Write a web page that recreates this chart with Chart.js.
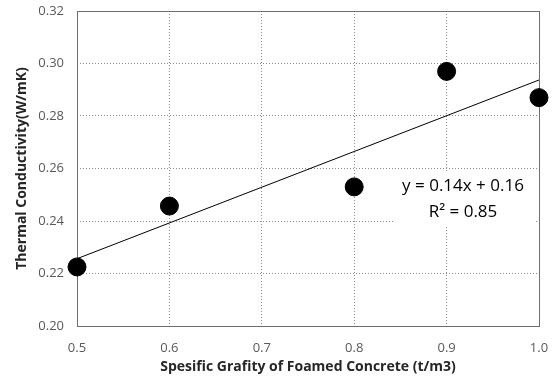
<!DOCTYPE html>
<html>
<head>
<meta charset="utf-8">
<script src="https://cdn.jsdelivr.net/npm/chart.js@4.4.1/dist/chart.umd.min.js"></script>
<style>
  html, body { margin: 0; padding: 0; background: #fff; }
  #wrap { position: relative; width: 555px; height: 385px; }
</style>
</head>
<body>
<div id="wrap"><canvas id="chart"></canvas></div>
<script>
// values
const gravity = [0.5, 0.6, 0.8, 0.9, 1.0];
const conductivity = [0.2225, 0.2457, 0.253, 0.297, 0.287];
const xTicks = [0.5, 0.6, 0.7, 0.8, 0.9, 1.0];
const yTicks = [0.20, 0.22, 0.24, 0.26, 0.28, 0.30, 0.32];
const equationLines = ['y = 0.14x + 0.16', 'R\u00b2 = 0.85'];

// least squares fit for the trendline
function linearFit (xs, ys) {
  const n = xs.length;
  const mx = xs.reduce((a, b) => a + b, 0) / n;
  const my = ys.reduce((a, b) => a + b, 0) / n;
  let sxy = 0, sxx = 0;
  xs.forEach((x, i) => {
    sxy += (x - mx) * (ys[i] - my);
    sxx += (x - mx) * (x - mx);
  });
  const slope = sxy / sxx;
  return {slope, intercept: my - slope * mx};
}

const fit = linearFit(gravity, conductivity);
const trendX = [gravity[0], gravity[gravity.length - 1]];
const trend = trendX.map(x => ({x, y: fit.intercept + fit.slope * x}));
const points = gravity.map((x, i) => ({x, y: conductivity[i]}));

const FONT = '"Open Sans", "Liberation Sans", sans-serif';

// axes should not push the plot area around for label overflow
function noPadding (axis) {
  axis.paddingTop = 0;
  axis.paddingBottom = 0;
  axis.paddingLeft = 0;
  axis.paddingRight = 0;
}

const frameAndLabel = {
  id: 'frameAndLabel',
  beforeDatasetsDraw (chart) {
    const {ctx, chartArea: a} = chart;
    ctx.save();
    ctx.strokeStyle = '#6e6e6e';
    ctx.lineWidth = 1;
    ctx.strokeRect(Math.round(a.left) + 0.5, Math.round(a.top) + 0.5,
      Math.round(a.right - a.left), Math.round(a.bottom - a.top));

    // equation box
    ctx.fillStyle = '#fff';
    ctx.fillRect(395, 172, 141, 55);
    ctx.fillStyle = '#000';
    ctx.font = '17px ' + FONT;
    ctx.textAlign = 'center';
    ctx.textBaseline = 'middle';
    ctx.fillText(equationLines[0], 463, 186);
    ctx.fillText(equationLines[1], 463, 212);
    ctx.restore();
  }
};

new Chart(document.getElementById('chart'), {
  type: 'scatter',
  data: {
    datasets: [
      {
        data: trend,
        showLine: true,
        borderColor: '#000',
        borderWidth: 1,
        pointRadius: 0,
        clip: false,
        order: 2
      },
      {
        data: points,
        backgroundColor: '#000',
        borderColor: '#000',
        pointRadius: 9,
        pointHoverRadius: 9,
        clip: false,
        order: 1
      }
    ]
  },
  options: {
    responsive: true,
    maintainAspectRatio: false,
    animation: false,
    layout: {padding: {top: 11, right: 16, left: 0, bottom: 0}},
    plugins: {
      legend: {display: false},
      tooltip: {enabled: false}
    },
    scales: {
      x: {
        type: 'linear',
        min: 0.5,
        max: 1.0,
        afterBuildTicks: axis => { axis.ticks = xTicks.map(v => ({value: v})); },
        afterFit: axis => { axis.height = 59; noPadding(axis); },
        grid: {color: '#8c8c8c', lineWidth: 1, drawTicks: false},
        border: {display: false, dash: [1, 2]},
        ticks: {
          padding: 14,
          color: '#595959',
          font: {family: FONT, size: 13},
          callback: v => v.toFixed(1)
        },
        title: {
          display: true,
          text: 'Spesific Grafity of Foamed Concrete (t/m3)',
          color: '#262626',
          font: {family: FONT, size: 14, weight: 'bold'},
          padding: {top: 0, bottom: 10}
        }
      },
      y: {
        type: 'linear',
        min: 0.20,
        max: 0.32,
        afterBuildTicks: axis => { axis.ticks = yTicks.map(v => ({value: v})); },
        afterFit: axis => { axis.width = 77; noPadding(axis); },
        grid: {color: '#8c8c8c', lineWidth: 1, drawTicks: false},
        border: {display: false, dash: [1, 2]},
        ticks: {
          padding: 13,
          color: '#595959',
          font: {family: FONT, size: 13},
          callback: v => v.toFixed(2)
        },
        title: {
          display: true,
          text: 'Thermal Conductivity(W/mK)',
          color: '#262626',
          font: {family: FONT, size: 14, weight: 'bold'},
          padding: {top: 14, bottom: 0}
        }
      }
    }
  },
  plugins: [frameAndLabel]
});
</script>
</body>
</html>
